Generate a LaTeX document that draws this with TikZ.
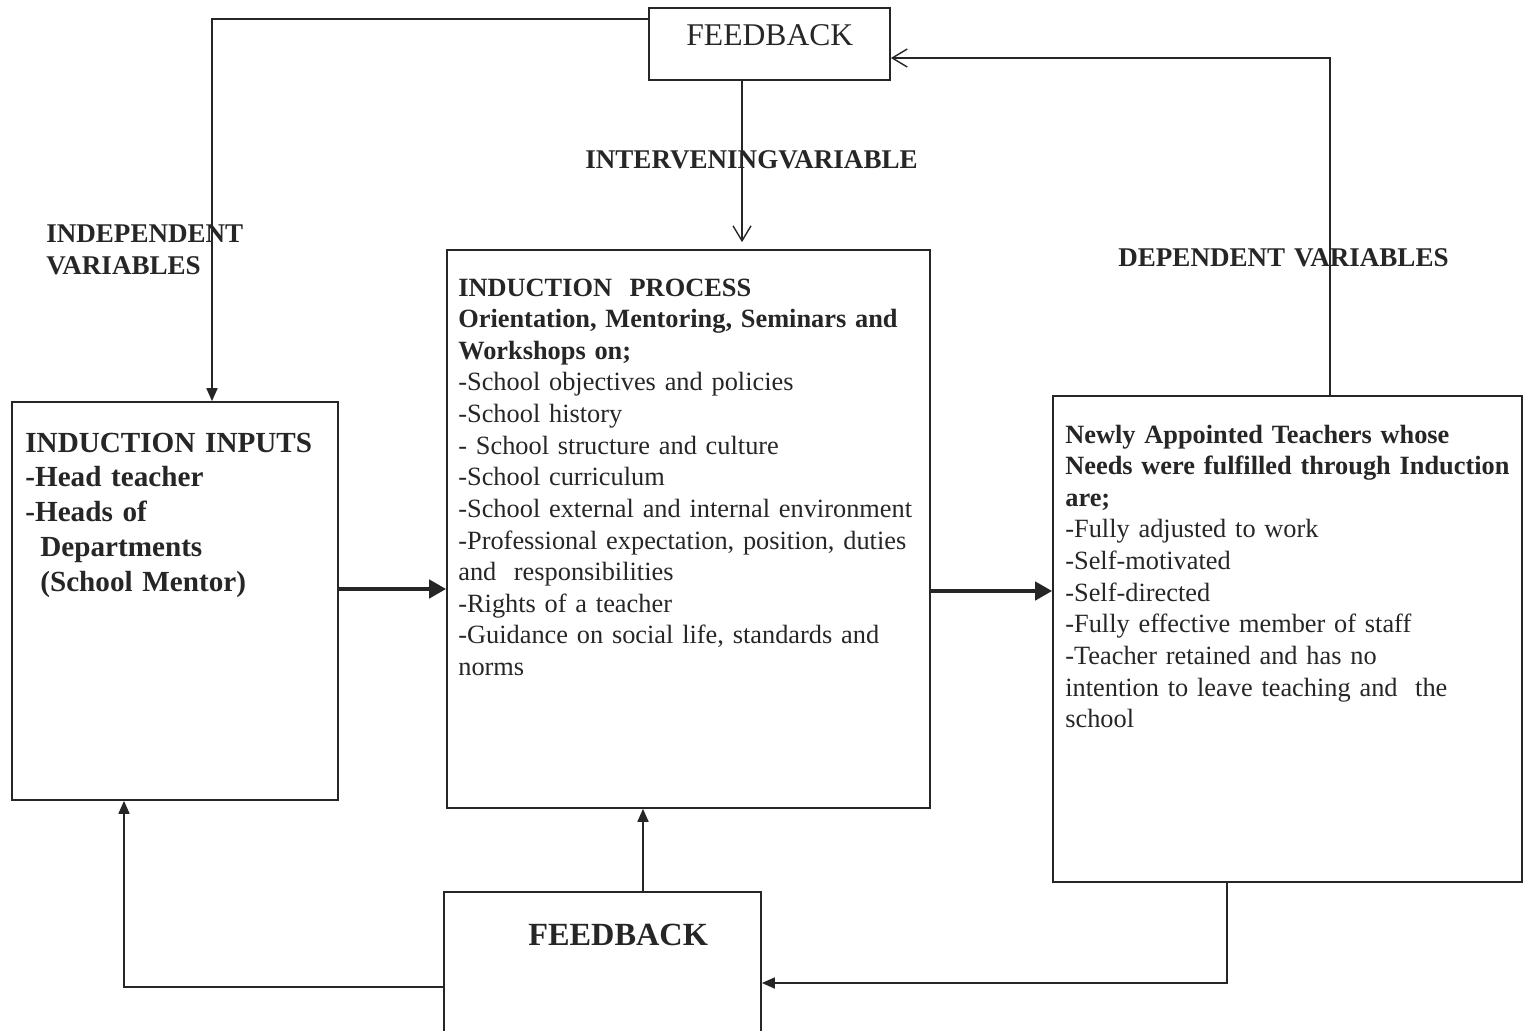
\documentclass[tikz,border=0pt]{standalone}
\usepackage{fontspec}
\setmainfont{Liberation Serif}
\usetikzlibrary{arrows.meta}

\tikzset{
	box/.style = {draw, rectangle, inner sep=0pt, line width=1pt},
	boxtext/.style = {anchor=base west, align=left, inner sep=0pt, text width=9.4cm},
	body/.style = {font=\fontsize{15}{18}\selectfont},
	heading/.style = {font=\fontsize{15.4}{17.6}\bfseries, anchor=base west, align=left, inner sep=0pt, text width=8cm},
	solidhead/.style = {-{Triangle[length=0.26cm,width=0.22cm]}, line width=1pt},
	openhead/.style = {-{Straight Barb[length=0.3cm,width=0.36cm]}, line width=0.8pt},
	fathead/.style = {-{Triangle[length=0.34cm,width=0.36cm]}, line width=2.8pt}
}

\begin{document}
\begin{tikzpicture}[x=0.02cm, y=-0.02cm, black!85]
		\clip (0,0) rectangle (1526,1031);
		% boxes
		\node[box, minimum width=4.82cm, minimum height=1.44cm] (fbtop) at (769.5,44) {};
		\node[box, minimum width=6.52cm, minimum height=7.96cm] (inputs) at (175,601) {};
		\node[box, minimum width=9.66cm, minimum height=11.16cm] (process) at (688.5,529) {};
		\node[box, minimum width=9.38cm, minimum height=9.72cm] (outcome) at (1287.5,639) {};
		\node[box, minimum width=6.34cm, minimum height=2.96cm] (fbbot) at (602.5,966) {};

		% texts
		\node[anchor=base west, inner sep=0pt, font=\fontsize{18}{20}\selectfont] (fbtoplbl) at (686,46) {FEEDBACK};
		\node[anchor=base west, inner sep=0pt, font=\fontsize{18.4}{20}\bfseries] (fbbotlbl) at (528,945) {FEEDBACK};
		\node[heading] (indep) at (46,242) {INDEPENDENT\\[1pt]VARIABLES};
		\node[heading] (interv) at (585,168) {INTERVENINGVARIABLE};
		\node[heading] (dep) at (1118,266) {DEPENDENT VARIABLES};

		\node[boxtext, font=\fontsize{16.6}{19.9}\bfseries] (inputstxt) at (25,452) {INDUCTION INPUTS\\
			-Head teacher\\
			-Heads of\\
			\hspace*{0.3cm}Departments\\
			\hspace*{0.3cm}(School Mentor)};
		\node[boxtext, body] (processtxt) at (458,296) {\textbf{INDUCTION\ \ PROCESS}\\
			\textbf{Orientation, Mentoring, Seminars and}\\
			\textbf{Workshops on;}\\
			-School objectives and policies\\
			-School history\\
			- School structure and culture\\
			-School curriculum\\
			-School external and internal environment\\
			-Professional expectation, position, duties\\
			and\ \ responsibilities\\
			-Rights of a teacher\\
			-Guidance on social life, standards and\\
			norms};
		\node[boxtext, body] (outcometxt) at (1065,443) {\textbf{Newly Appointed Teachers whose}\\
			\textbf{Needs were fulfilled through Induction}\\
			\textbf{are;}\\
			-Fully adjusted to work\\
			-Self-motivated\\
			-Self-directed\\
			-Fully effective member of staff\\
			-Teacher retained and has no\\
			intention to leave teaching and\ \ the\\
			school};

		% connectors
		\coordinate (fbdrop) at ([xshift=-0.55cm]fbtop.south);
		\draw[solidhead] (fbtop.west |- 0,19) -| (inputs.north -| 212,0);
		\draw[openhead] (outcome.north -| 1330,0) |- (fbtop.east |- 0,58);
		\draw[openhead, shorten >=0.14cm] (fbdrop) -- (fbdrop |- process.north);
		\draw[fathead] (inputs.east |- 0,589) -- (process.west |- 0,589);
		\draw[fathead] (process.east |- 0,591) -- (outcome.west |- 0,591);
		\draw[solidhead] (fbbot.north -| 643,0) -- (process.south -| 643,0);
		\draw[solidhead] (fbbot.west |- 0,987) -| (inputs.south -| 124,0);
		\draw[solidhead] (outcome.south -| 1227,0) |- (fbbot.east |- 0,983);
	\end{tikzpicture}
\end{document}
